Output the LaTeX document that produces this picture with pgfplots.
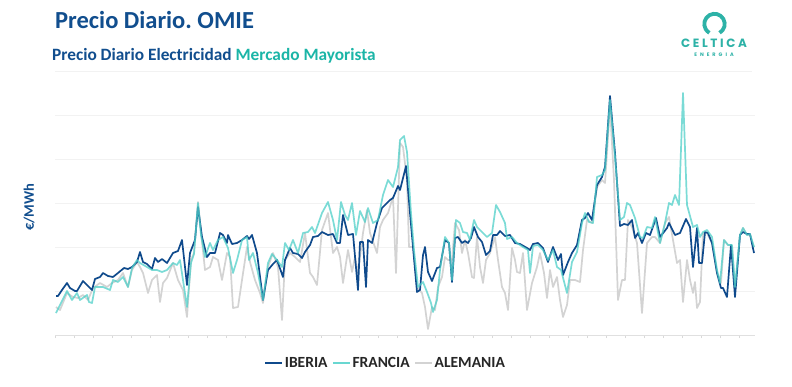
\documentclass[border=0pt]{standalone}
\usepackage{fontspec}
\setmainfont{Carlito}
\newfontfamily\logofont[LetterSpace=22]{Poppins}
\newfontfamily\logofontsmall[LetterSpace=60]{Poppins}
\usepackage{pgfplots}
\pgfplotsset{compat=1.18}
\definecolor{titleblue}{HTML}{114E8E}
\definecolor{subteal}{HTML}{1BB5A7}
\definecolor{iberia}{HTML}{0F4A8C}
\definecolor{francia}{HTML}{4FD0C9}
\definecolor{alemania}{HTML}{D3D3D3}
\definecolor{logoteal}{HTML}{2DB2A7}
\frenchspacing
\begin{document}
\begin{tikzpicture}[x=1pt,y=1pt]
\path[use as bounding box, fill=white] (0,0) rectangle (792,386);
% header
\node[anchor=base west, inner sep=0pt, font=\fontsize{24.5}{28}\selectfont\bfseries, text=titleblue] at (55,357) {Precio Diario.\ OMIE};
\node[anchor=base west, inner sep=0pt, font=\fontsize{17.3}{20}\selectfont\bfseries] at (52,325) {\textcolor{titleblue}{Precio Diario Electricidad} \textcolor{subteal}{Mercado Mayorista}};
\draw[black!5, line width=0.8pt] (55,315) -- (752,315);
% logo
\draw[logoteal, line width=3.8pt] (714.5,362) ++(-60:10.2) arc[start angle=-60, end angle=240, radius=10.2];
\node[anchor=base, inner sep=0pt, font=\logofont\fontsize{12}{13}\selectfont\bfseries, text=logoteal] at (714,338) {CELTICA};
\node[anchor=base, inner sep=0pt, font=\logofontsmall\fontsize{5}{6}\selectfont\bfseries, text=logoteal] at (714,329) {ENERGIA};
% y label
\node[rotate=90, inner sep=0pt, font=\fontsize{14.5}{16}\selectfont\bfseries, text=titleblue] at (29,179) {€/MWh};
\begin{axis}[
  at={(55,51)}, anchor=south west,
  width=700pt, height=250pt, scale only axis,
  xmin=55, xmax=755, ymin=0, ymax=250,
  axis x line*=bottom, axis y line*=left,
  y axis line style={draw=none},
  x axis line style={black!12, line width=0.8pt},
  xtick={55,74,...,755}, xticklabels={},
  xtick style={black!15, line width=0.6pt},
  xtick align=outside, major tick length=3pt,
  ytick={44,88,132,176,220}, yticklabels={},
  ytick style={draw=none},
  ymajorgrids, major grid style={black!5, line width=0.6pt},
  clip=false,
  legend columns=3,
  legend style={at={(0.472,-0.112)}, anchor=center, draw=none, fill=none,
    font=\fontsize{15.5}{17}\selectfont\bfseries, text=black!85,
    nodes={inner xsep=1.5pt},
    /tikz/every even column/.append style={column sep=3pt}},
  legend image code/.code={\draw[#1] (0pt,0pt) -- (17pt,0pt);},
]
\addlegendimage{iberia, line width=2pt}
\addlegendentry{IBERIA}
\addlegendimage{francia!85!white, line width=2pt}
\addlegendentry{FRANCIA}
\addlegendimage{alemania, line width=2pt}
\addlegendentry{ALEMANIA}
% ALEMANIA
\addplot[forget plot, alemania, line width=1.7pt, line join=round] coordinates {
(56,28) (60,25) (67,42) (73,38) (78,37) (83,40) (88,35) (93,47) (100,52) (107,48) (112,52) (118,55) (123,62) (128,48) (132,65) (137,73) (140,68) (143,62) (148,42) (152,55) (157,60) (160,33) (163,52) (167,57) (173,72) (178,55) (183,45) (187,18) (191,75) (194,82) (198,133) (201,103) (205,65) (210,68) (213,78) (218,75) (222,55) (227,82) (230,78) (233,27) (238,28) (242,55) (247,88) (250,73) (255,55) (260,42) (263,32) (268,68) (273,82) (278,68) (282,15) (285,75) (290,82) (295,78) (300,73) (305,102) (310,62) (313,58) (317,50) (322,105) (328,122) (333,82) (337,88) (340,78) (343,52) (348,85) (352,63) (355,78) (358,62) (363,102) (367,125) (370,102) (377,82) (380,108) (383,115) (388,122) (393,138) (396,62) (400,192) (403,188) (407,155) (409,88) (413,88) (417,48) (422,42) (425,28) (428,6) (432,28) (435,25) (438,48) (442,58) (445,78) (448,75) (452,75) (455,112) (459,105) (462,82) (465,95) (468,82) (472,58) (474,57) (477,98) (480,68) (483,52) (486,75) (490,82) (495,98) (498,75) (502,48) (505,42) (508,25) (512,87) (515,75) (517,63) (520,62) (523,82) (527,25) (532,52) (537,68) (540,82) (544,62) (547,37) (550,65) (553,48) (557,58) (560,35) (563,18) (567,30) (570,55) (575,55) (580,53) (583,85) (587,115) (592,112) (597,148) (602,155) (605,152) (610,228) (614,155) (618,35) (622,55) (625,55) (628,115) (632,108) (637,92) (642,22) (647,92) (652,98) (655,98) (660,92) (665,112) (669,118) (673,95) (677,72) (680,75) (683,33) (687,75) (690,55) (693,42) (695,53) (697,27) (700,33) (703,102) (707,102) (712,92) (717,62) (721,52) (724,95) (728,90) (732,89) (735,47) (740,100) (743,107) (747,100) (750,100) (754,88)
};
% IBERIA
\addplot[forget plot, iberia, line width=1.7pt, line join=round] coordinates {
(56,39) (58,39) (62,45) (67,52) (70,47) (75,44) (77,44) (83,54) (87,50) (92,45) (95,56) (100,58) (103,62) (108,59) (113,58) (118,62) (124,67) (128,66) (132,68) (137,73) (140,83) (143,73) (147,71) (152,66) (155,77) (158,73) (162,76) (167,72) (173,82) (178,84) (182,95) (187,50) (190,82) (195,95) (198,128) (202,98) (207,78) (210,82) (215,82) (220,102) (223,100) (227,92) (228,100) (232,91) (237,92) (242,95) (247,99) (249,96) (252,100) (257,82) (263,35) (268,65) (273,71) (277,75) (283,58) (285,75) (290,87) (293,82) (298,81) (302,77) (305,83) (310,90) (313,98) (318,99) (322,103) (328,100) (333,101) (337,92) (340,92) (343,120) (348,100) (353,101) (358,45) (360,93) (363,93) (366,48) (368,95) (372,92) (377,112) (382,127) (387,132) (390,135) (393,137) (398,149) (400,145) (406,169) (410,122) (413,88) (417,43) (420,45) (423,80) (425,88) (428,63) (432,54) (437,67) (440,68) (445,95) (449,92) (452,53) (455,97) (458,98) (462,92) (465,94) (468,92) (471,97) (474,108) (478,98) (482,93) (486,80) (490,84) (493,100) (497,100) (500,104) (505,99) (510,100) (515,92) (520,91) (527,87) (530,85) (533,91) (538,92) (543,87) (548,73) (553,88) (558,75) (561,81) (563,60) (568,73) (572,82) (577,90) (582,115) (585,117) (588,122) (592,115) (597,150) (602,158) (605,168) (610,239) (615,182) (620,109) (624,111) (628,110) (632,115) (635,97) (638,102) (642,92) (646,102) (650,100) (656,117) (660,98) (667,107) (669,112) (675,100) (680,102) (686,116) (690,108) (693,68) (697,107) (699,72) (702,72) (705,103) (708,102) (712,92) (717,62) (721,47) (723,47) (727,38) (731,90) (735,38) (740,100) (743,103) (747,101) (750,101) (754,82)
};
% FRANCIA
\addplot[forget plot, francia, opacity=0.75, line width=1.7pt, line join=round] coordinates {
(56,22) (60,30) (67,44) (72,35) (77,42) (80,35) (87,40) (89,33) (92,32) (95,48) (103,48) (110,45) (113,55) (118,53) (123,58) (128,48) (132,67) (137,75) (140,72) (147,68) (152,65) (157,65) (162,63) (167,65) (173,72) (177,70) (180,75) (187,28) (191,72) (194,81) (198,132) (201,100) (205,78) (210,92) (213,85) (218,95) (223,98) (228,87) (233,62) (237,75) (242,95) (247,98) (249,75) (253,82) (258,62) (263,35) (268,72) (272,81) (277,75) (282,68) (285,92) (289,85) (293,95) (298,82) (303,102) (308,103) (312,108) (315,102) (322,122) (328,133) (333,115) (337,95) (341,133) (345,120) (348,115) (352,132) (356,100) (360,124) (365,113) (368,127) (373,112) (378,115) (383,140) (388,155) (393,148) (398,168) (400,195) (404,199) (407,183) (411,122) (414,85) (418,48) (423,53) (427,43) (431,32) (433,23) (437,35) (440,65) (445,98) (449,92) (452,55) (456,115) (460,112) (463,103) (467,102) (470,95) (474,115) (477,108) (482,103) (487,98) (492,102) (496,130) (500,123) (505,112) (507,96) (512,98) (517,92) (523,88) (528,85) (530,62) (533,89) (538,90) (543,85) (548,75) (553,85) (557,68) (561,65) (567,42) (572,73) (577,83) (582,112) (585,122) (589,113) (593,112) (597,158) (602,160) (605,165) (610,235) (615,178) (620,115) (624,118) (627,132) (630,130) (635,117) (640,98) (643,97) (647,108) (652,107) (655,118) (660,92) (665,112) (669,132) (672,130) (675,140) (679,130) (683,242) (687,130) (693,108) (697,110) (700,98) (703,103) (707,105) (712,98) (717,65) (720,52) (724,95) (728,90) (732,90) (735,48) (740,100) (743,107) (747,100) (750,101) (754,88)
};
\end{axis}
\end{tikzpicture}
\end{document}
